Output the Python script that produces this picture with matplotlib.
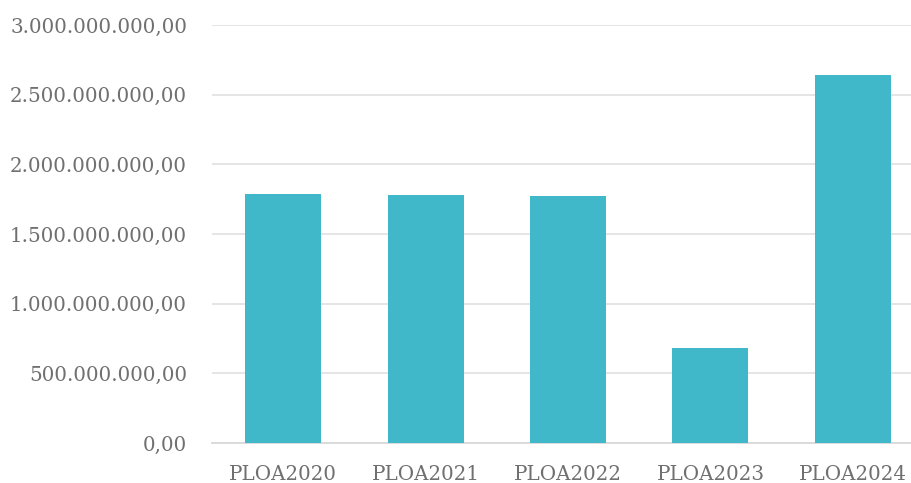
import matplotlib.pyplot as plt
from matplotlib.ticker import FuncFormatter

# valores do PLOA por ano (R$)
anos = ["PLOA2020", "PLOA2021", "PLOA2022", "PLOA2023", "PLOA2024"]
valores = [1.787e9, 1.780e9, 1.773e9, 0.682e9, 2.641e9]
yticks = [0, 0.5e9, 1.0e9, 1.5e9, 2.0e9, 2.5e9, 3.0e9]

COR_BARRA = "#41B8C9"
COR_TEXTO = "#707070"
COR_GRADE = "#E3E3E3"


def formato_br(v, pos=None):
    s = f"{v:,.2f}"
    return s.replace(",", "X").replace(".", ",").replace("X", ".")


fig = plt.figure(figsize=(9.11, 4.83), dpi=100)
W, H = 911, 483
ax = fig.add_axes([212 / W, (H - 443) / H, (924 - 212) / W, (443 - 25) / H])

x = range(len(anos))
ax.bar(x, valores, width=0.535, color=COR_BARRA, zorder=3)

ax.set_xlim(-0.5, len(anos) - 0.5)
ax.set_ylim(0, 3.0e9)
ax.set_yticks(yticks)
ax.yaxis.set_major_formatter(FuncFormatter(formato_br))
ax.set_xticks(list(x))
ax.set_xticklabels(anos)

ax.grid(axis="y", color=COR_GRADE, linewidth=1.3, zorder=0)
for lado in ["top", "right", "left"]:
    ax.spines[lado].set_visible(False)
ax.spines["bottom"].set_color("#D9D9D9")
ax.spines["bottom"].set_linewidth(1.3)
ax.tick_params(axis="both", length=0, colors=COR_TEXTO, labelsize=14.3)
ax.tick_params(axis="y", pad=18)
ax.tick_params(axis="x", pad=16)
for lbl in ax.get_xticklabels() + ax.get_yticklabels():
    lbl.set_fontfamily("DejaVu Serif")

fig.savefig("out.png", dpi=100)
